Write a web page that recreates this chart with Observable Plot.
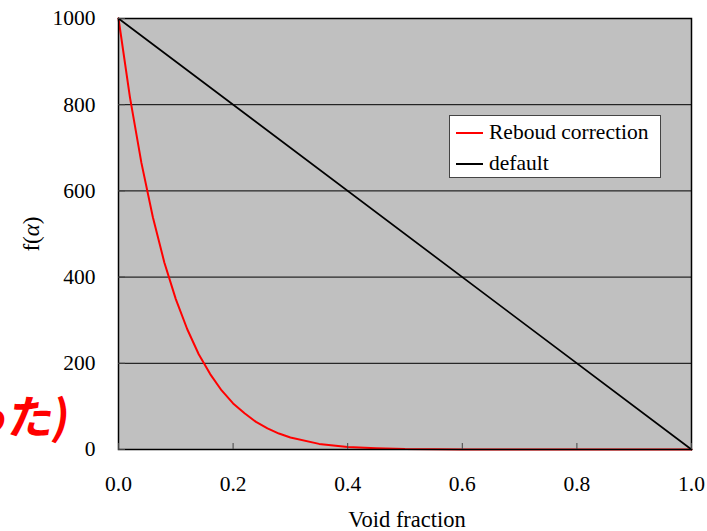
<!DOCTYPE html>
<html>
<head>
<meta charset="utf-8">
<script src="https://cdn.jsdelivr.net/npm/d3@7"></script>
<script src="https://cdn.jsdelivr.net/npm/@observablehq/plot@0.6"></script>
<style>
  html, body { margin: 0; padding: 0; background: white; overflow: hidden; }
  #wrap { position: relative; width: 707px; height: 531px; overflow: hidden; font-family: "Liberation Serif", serif; }
  .ov { position: absolute; white-space: nowrap; line-height: 1; }
</style>
</head>
<body>
<div id="wrap"></div>
<script>
// Void fraction samples and the Reboud-corrected f(alpha)
const alpha  = [0, 0.02, 0.04, 0.06, 0.08, 0.10, 0.12, 0.14, 0.16, 0.18, 0.20, 0.22, 0.24, 0.26, 0.28, 0.30, 0.35, 0.40, 0.45, 0.50, 0.60, 0.70, 0.80, 0.90, 1.00];
const reboud = [1000, 817, 665, 539, 434, 349, 279, 221, 175, 137, 107, 84, 64, 49, 37, 28, 13, 6, 3, 1, 0, 0, 0, 0, 0];
// Default (linear) law
const defaultAlpha = [0, 1];
const defaultF = [1000, 0];
// Axis ticks
const xTicks = [0, 0.2, 0.4, 0.6, 0.8, 1.0];
const yTicks = [0, 200, 400, 600, 800, 1000];
const gridY = [200, 400, 600, 800];
const seriesNames = ["Reboud correction", "default"];
const seriesColors = ["#ff0000", "#000000"];

const reboudData = alpha.map((a, i) => ({a, f: reboud[i]}));
const defaultData = defaultAlpha.map((a, i) => ({a, f: defaultF[i]}));

const chart = Plot.plot({
  width: 707,
  height: 531,
  marginLeft: 118,
  marginRight: 16,
  marginTop: 18,
  marginBottom: 82,
  style: {fontFamily: "Liberation Serif, serif", fontSize: "21.5px", background: "white", color: "black"},
  x: {domain: [0, 1]},
  y: {domain: [0, 1000]},
  marks: [
    Plot.frame({fill: "#c0c0c0"}),
    Plot.ruleY(gridY, {stroke: "black", strokeWidth: 1}),
    Plot.line(reboudData, {x: "a", y: "f", stroke: seriesColors[0], strokeWidth: 2}),
    Plot.line(defaultData, {x: "a", y: "f", stroke: seriesColors[1], strokeWidth: 1.7}),
    Plot.frame({stroke: "black", strokeWidth: 1.5}),
    Plot.axisX({ticks: xTicks, tickFormat: d => d.toFixed(1), tickSize: -6, tickPadding: 32, label: null, stroke: "#444"}),
    Plot.axisY({ticks: yTicks, tickFormat: d => String(d), tickSize: -7, tickPadding: 30, label: null, stroke: "#444"})
  ]
});

const wrap = document.getElementById("wrap");
wrap.appendChild(chart);

// x axis title
const xl = document.createElement("div");
xl.className = "ov";
xl.style.cssText = "left:407px;top:509px;font-size:22.5px;transform:translateX(-50%);";
xl.textContent = "Void fraction";
wrap.appendChild(xl);

// y axis title f(α)
const yl = document.createElement("div");
yl.className = "ov";
yl.style.cssText = "left:31px;top:234px;font-size:23px;transform:translate(-50%,-50%) rotate(-90deg);";
yl.innerHTML = "f(<i>α</i>)";
wrap.appendChild(yl);

// Legend
const lg = document.createElement("div");
lg.className = "ov";
lg.style.cssText = "left:449px;top:115px;width:210px;height:61px;background:white;border:1px solid #444;font-size:21.5px;";
seriesNames.forEach((name, i) => {
  const row = document.createElement("div");
  row.style.cssText = `position:absolute;left:6px;top:${6 + i * 31}px;display:flex;align-items:center;height:22px;`;
  const sw = document.createElement("span");
  sw.style.cssText = `display:inline-block;width:27px;height:0;border-top:2px solid ${seriesColors[i]};margin-right:6px;`;
  const tx = document.createElement("span");
  tx.textContent = name;
  row.appendChild(sw);
  row.appendChild(tx);
  lg.appendChild(row);
});
wrap.appendChild(lg);

// cropped red Japanese annotation at left
const jp = document.createElement("div");
jp.className = "ov";
jp.style.cssText = "left:-35px;top:391px;font-size:46px;font-weight:bold;letter-spacing:-2px;transform:skewX(-8deg);color:#ff0000;font-family:'Noto Sans CJK JP',sans-serif;";
jp.textContent = "った)";
wrap.appendChild(jp);
</script>
</body>
</html>
